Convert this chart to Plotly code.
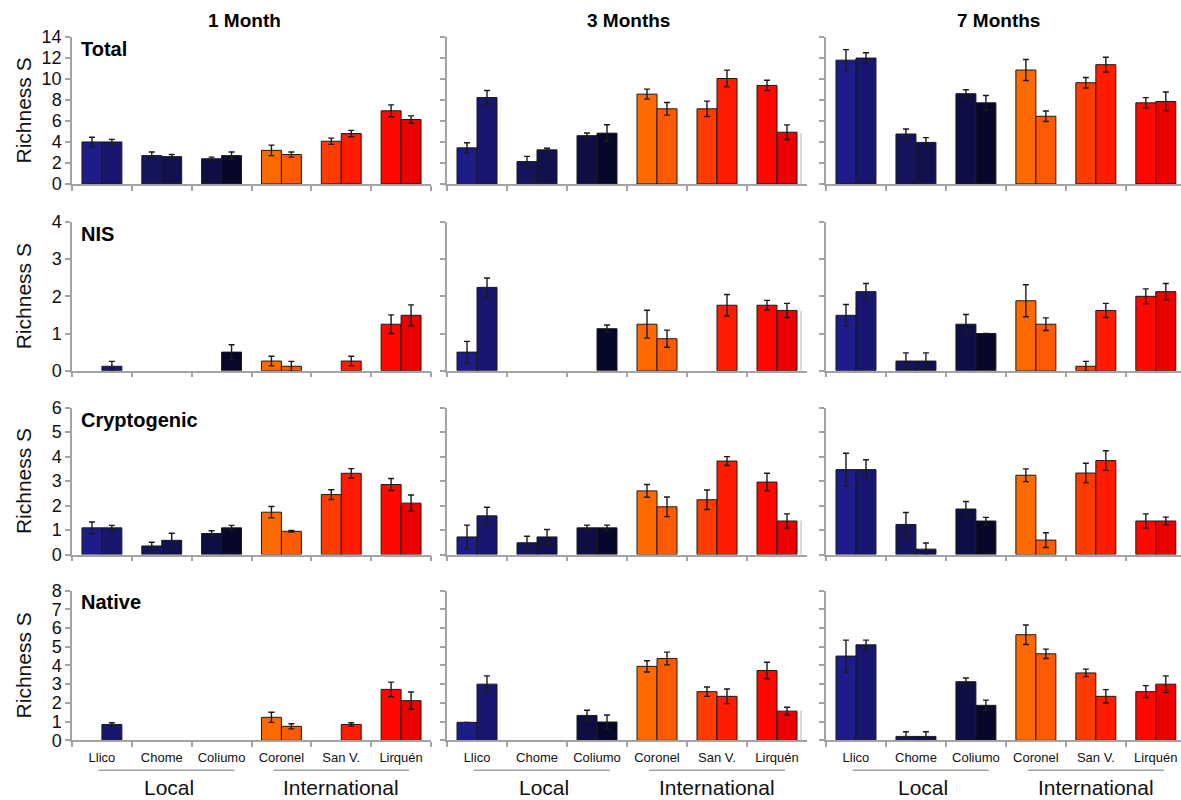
import plotly.graph_objects as go

# ---- data -------------------------------------------------------------
sites = ["Llico", "Chome", "Coliumo", "Coronel", "San V.", "Lirquén"]
periods = ["1 Month", "3 Months", "7 Months"]
groups = ["Total", "NIS", "Cryptogenic", "Native"]
y_max = [14, 4, 6, 8]
y_step = [2, 1, 1, 1]

# mean richness per site; one row per period (1, 3, 7 months); a / b = paired bars
total_a = [[4.0, 2.7, 2.4, 3.2, 4.07, 6.97],
           [3.44, 2.13, 4.6, 8.56, 7.16, 9.39],
           [11.8, 4.76, 8.6, 10.86, 9.65, 7.73]]
total_b = [[4.0, 2.6, 2.7, 2.8, 4.8, 6.14],
           [8.24, 3.25, 4.84, 7.16, 10.05, 4.93],
           [12.0, 3.96, 7.73, 6.45, 11.37, 7.86]]
total_a_err = [[0.45, 0.35, 0.15, 0.5, 0.3, 0.57],
               [0.48, 0.5, 0.25, 0.48, 0.73, 0.5],
               [1.0, 0.48, 0.38, 1.0, 0.5, 0.5]]
total_b_err = [[0.25, 0.2, 0.35, 0.25, 0.3, 0.35],
               [0.67, 0.15, 0.8, 0.6, 0.8, 0.7],
               [0.5, 0.45, 0.7, 0.5, 0.7, 0.9]]

nis_a = [[0, 0, 0, 0.26, 0, 1.25],
         [0.5, 0, 0, 1.25, 0, 1.76],
         [1.49, 0.26, 1.25, 1.88, 0.12, 2.0]]
nis_b = [[0.12, 0, 0.5, 0.12, 0.26, 1.49],
         [2.24, 0, 1.13, 0.86, 1.76, 1.62],
         [2.125, 0.26, 1.0, 1.25, 1.62, 2.125]]
nis_a_err = [[0, 0, 0, 0.13, 0, 0.25],
             [0.29, 0, 0, 0.375, 0, 0.13],
             [0.29, 0.22, 0.26, 0.43, 0.13, 0.2]]
nis_b_err = [[0.13, 0, 0.2, 0.13, 0.13, 0.28],
             [0.25, 0, 0.1, 0.23, 0.29, 0.19],
             [0.22, 0.22, 0, 0.17, 0.19, 0.22]]

crypto_a = [[1.09, 0.35, 0.86, 1.73, 2.45, 2.86],
            [0.72, 0.48, 1.09, 2.6, 2.24, 2.96],
            [3.47, 1.23, 1.86, 3.24, 3.33, 1.37]]
crypto_b = [[1.09, 0.58, 1.09, 0.95, 3.32, 2.1],
            [1.58, 0.72, 1.09, 1.95, 3.82, 1.37],
            [3.47, 0.22, 1.37, 0.59, 3.84, 1.37]]
crypto_a_err = [[0.24, 0.15, 0.11, 0.23, 0.2, 0.245],
                [0.48, 0.27, 0.11, 0.26, 0.4, 0.36],
                [0.67, 0.49, 0.31, 0.26, 0.4, 0.29]]
crypto_b_err = [[0.1, 0.29, 0.1, 0.03, 0.19, 0.33],
                [0.35, 0.3, 0.11, 0.4, 0.18, 0.29],
                [0.4, 0.25, 0.15, 0.3, 0.4, 0.16]]

native_a = [[0, 0, 0, 1.23, 0, 2.72],
            [0.96, 0, 1.33, 3.95, 2.6, 3.73],
            [4.5, 0.21, 3.13, 5.64, 3.6, 2.6]]
native_b = [[0.85, 0, 0, 0.75, 0.85, 2.12],
            [3.0, 0, 0.98, 4.37, 2.35, 1.56],
            [5.1, 0.21, 1.87, 4.62, 2.35, 3.0]]
native_a_err = [[0, 0, 0, 0.27, 0, 0.39],
                [0, 0, 0.28, 0.3, 0.25, 0.44],
                [0.85, 0.25, 0.2, 0.52, 0.2, 0.32]]
native_b_err = [[0.09, 0, 0, 0.14, 0.09, 0.46],
                [0.44, 0, 0.37, 0.34, 0.39, 0.21],
                [0.25, 0.25, 0.28, 0.25, 0.36, 0.44]]

local_sites = ["Llico", "Chome", "Coliumo"]
intl_sites = ["Coronel", "San V.", "Lirquén"]

# ---- style ------------------------------------------------------------
colors_a = ["#1d1d8a", "#15155e", "#0e0e44", "#ff6a00", "#ff3c00", "#ff0800"]
colors_b = ["#17176f", "#111150", "#07072a", "#ff5a00", "#ff1c00", "#ec0000"]
FONT = "Liberation Sans, Arial, sans-serif"
AXIS_GREY = "#a3a3a3"
W, H = 1181, 800


def py(px):
    # vertical pixel position -> paper fraction (compensates the page's vertical fit)
    return 1 - (px - 8.9) / 0.976 / H


col_px = [(72, 431), (447, 807), (826, 1181)]
col_xmax = [5.5, 5.5, 5.42]          # last panel runs off the right edge
title_x = [244, 628, 998]
row_px = [(36, 183), (221, 370), (407, 554), (590, 740)]
# short grey edge left at the right side of the middle column
stub_px = [(132, 183), (310, 370), (520, 554), (710, 740)]

series = [
    (total_a, total_b, total_a_err, total_b_err),
    (nis_a, nis_b, nis_a_err, nis_b_err),
    (crypto_a, crypto_b, crypto_a_err, crypto_b_err),
    (native_a, native_b, native_a_err, native_b_err),
]


def nz(vals):
    # empty bars are left undrawn so no outline sits on the baseline
    return [v if v else None for v in vals]


fig = go.Figure()
layout = dict(
    width=W, height=H,
    margin=dict(l=0, r=0, t=0, b=0),
    paper_bgcolor="white", plot_bgcolor="white",
    barmode="group", bargap=1 / 3, bargroupgap=0,
    showlegend=False,
    font=dict(family=FONT, color="black"),
)
annotations = []
shapes = []

for r, grp in enumerate(groups):
    a_all, b_all, ea_all, eb_all = series[r]
    y0, y1 = row_px[r]
    ydom = [py(y1), py(y0)]
    for c, per in enumerate(periods):
        k = r * 3 + c + 1
        xa, ya = f"x{k}", f"y{k}"
        x0, x1 = col_px[c]
        xdom = [x0 / W, min(x1 / W, 1.0)]
        for vals, errs, cols in ((a_all[c], ea_all[c], colors_a),
                                 (b_all[c], eb_all[c], colors_b)):
            fig.add_trace(go.Bar(
                x=sites, y=nz(vals), xaxis=xa, yaxis=ya,
                marker=dict(color=cols, line=dict(color="#1a1a1a", width=1)),
                error_y=dict(type="data", array=[e if v else None for v, e in zip(vals, errs)],
                             visible=True, color="#1a1a1a", thickness=1.4, width=3),
                cliponaxis=True,
            ))
        layout[f"xaxis{k}"] = dict(
            domain=xdom, anchor=ya, type="category",
            categoryorder="array", categoryarray=sites, range=[-0.5, col_xmax[c]],
            showline=True, linecolor=AXIS_GREY, linewidth=1.5,
            ticks="outside", tickson="boundaries", ticklen=5, tickcolor=AXIS_GREY, tickwidth=1.5,
            showticklabels=(r == 3), tickfont=dict(size=13, color="#111"),
            ticklabelstandoff=4,
            showgrid=False, zeroline=False, fixedrange=True,
        )
        layout[f"yaxis{k}"] = dict(
            domain=ydom, anchor=xa, range=[0, y_max[r]], dtick=y_step[r], tick0=0,
            showline=True, linecolor=AXIS_GREY, linewidth=1.5,
            ticks="outside", ticklen=5, tickcolor=AXIS_GREY, tickwidth=1.5,
            showticklabels=(c == 0), tickfont=dict(size=18, color="#111"),
            showgrid=False, zeroline=False, fixedrange=True,
        )
        if r == 0:
            annotations.append(dict(
                text=f"<b>{per}</b>", xref="paper", yref="paper",
                x=title_x[c] / W, y=py(19),
                xanchor="center", yanchor="middle", showarrow=False,
                font=dict(size=19, family=FONT, color="black"),
            ))
        if r == 3:
            # Local / International brackets under the site labels
            for members, label, shift in ((local_sites, "Local", 0.08),
                                          (intl_sites, "International", 0.0)):
                i0 = sites.index(members[0])
                i1 = sites.index(members[-1])
                mid = (i0 + i1) / 2 + shift
                shapes.append(dict(
                    type="line", xref=xa, yref="paper",
                    x0=mid - 1.135, x1=mid + 1.135, y0=py(770), y1=py(770),
                    line=dict(color=AXIS_GREY, width=1.5),
                ))
                annotations.append(dict(
                    text=label, xref=xa, yref="paper",
                    x=mid + shift / 2, y=py(787),
                    xanchor="center", yanchor="middle", showarrow=False,
                    font=dict(size=21, family=FONT, color="#111"),
                ))
    s0, s1 = stub_px[r]
    shapes.append(dict(
        type="line", xref="paper", yref="paper",
        x0=801 / W, x1=801 / W, y0=py(s0), y1=py(s1),
        line=dict(color="#b5b5b5", width=1),
    ))
    # group name inside the first panel and the y title on the left
    annotations.append(dict(
        text=f"<b>{grp}</b>", xref="paper", yref="paper",
        x=79 / W, y=py(y0 + 12),
        xanchor="left", yanchor="middle", showarrow=False,
        font=dict(size=20, family=FONT, color="black"),
    ))
    annotations.append(dict(
        text="Richness S", xref="paper", yref="paper",
        x=23 / W, y=py((y0 + y1) / 2), textangle=-90,
        xanchor="center", yanchor="middle", showarrow=False,
        font=dict(size=21, family=FONT, color="#111"),
    ))

layout["annotations"] = annotations
layout["shapes"] = shapes
fig.update_layout(**layout)
fig.write_html("out.html", config={"displayModeBar": False})
